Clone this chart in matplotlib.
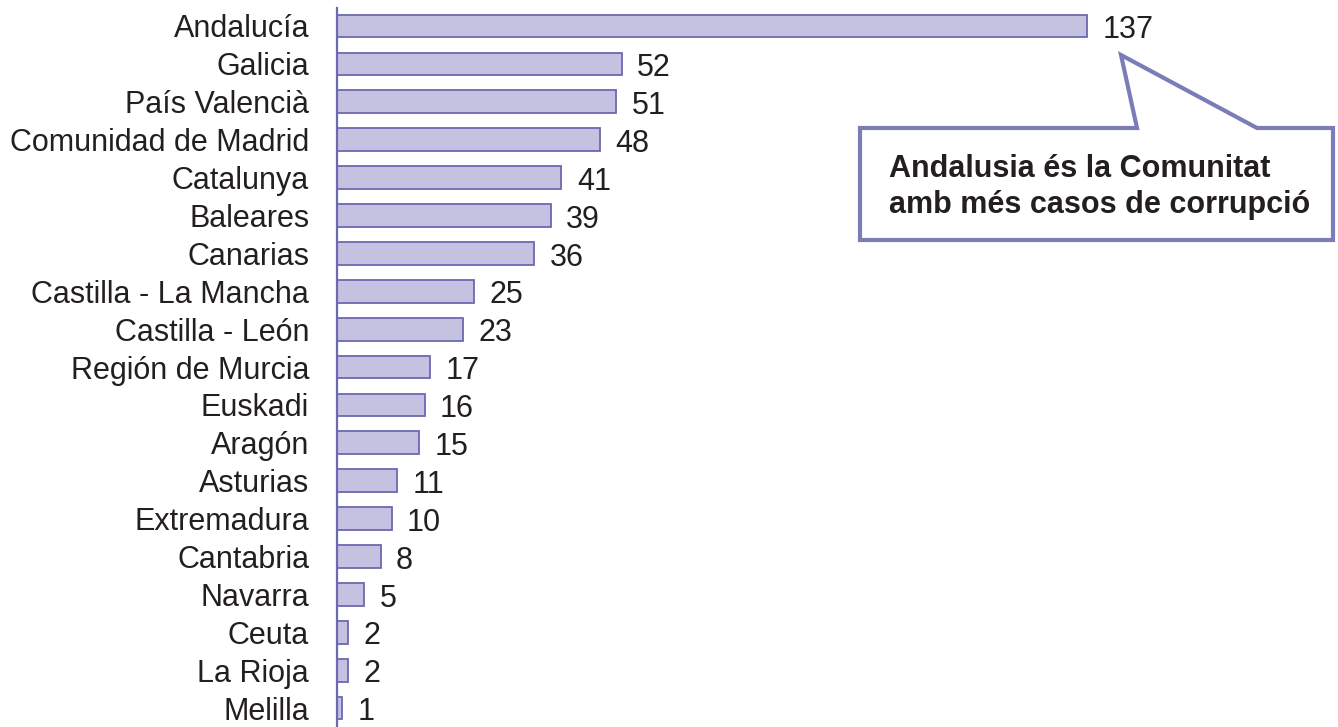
import matplotlib.pyplot as plt
from matplotlib.patches import Polygon

regions = ['Andalucía', 'Galicia', 'País Valencià', 'Comunidad de Madrid', 'Catalunya',
           'Baleares', 'Canarias', 'Castilla - La Mancha', 'Castilla - León',
           'Región de Murcia', 'Euskadi', 'Aragón', 'Asturias', 'Extremadura',
           'Cantabria', 'Navarra', 'Ceuta', 'La Rioja', 'Melilla']
cases = [137, 52, 51, 48, 41, 39, 36, 25, 23, 17, 16, 15, 11, 10, 8, 5, 2, 2, 1]
callout_text = 'Andalusia és la Comunitat\namb més casos de corrupció'

plt.rcParams['font.family'] = ['Liberation Sans', 'DejaVu Sans']
W, H = 1338, 727
fig = plt.figure(figsize=(W / 100, H / 100), dpi=100)
ax = fig.add_axes([337 / W, 0, 1 - 337 / W, 1 - 8 / H])

bar_c = '#c5c1e0'
edge_c = '#6b69b0'
ypos = list(range(len(regions)))
ax.barh(ypos, cases, height=0.6, color=bar_c, edgecolor=edge_c, linewidth=1.3)
for y, v in zip(ypos, cases):
    ax.annotate(str(v), (v, y), xytext=(11, -3), textcoords='offset points',
                va='center', ha='left', fontsize=22, color='#231f20')

ax.set_xlim(0, (W - 337) / 5.475)
ax.set_ylim(18.5, -0.475)
ax.set_yticks(ypos)
ax.set_yticklabels(regions, fontsize=22, color='#231f20')
ax.tick_params(axis='y', length=0, pad=20)
ax.set_xticks([])
for s in ['top', 'right', 'bottom']:
    ax.spines[s].set_visible(False)
ax.spines['left'].set_color(edge_c)
ax.spines['left'].set_linewidth(1.6)

# speech bubble
pts_px = [(860, 128), (1137, 128), (1121, 55), (1257, 128), (1333, 128),
          (1333, 240), (860, 240)]
pts = [(x / W, 1 - y / H) for x, y in pts_px]
bubble = Polygon(pts, closed=True, transform=fig.transFigure, facecolor='white',
                 edgecolor='#7b7db8', linewidth=3, joinstyle='miter')
fig.patches.append(bubble)
fig.text(889 / W, 1 - 187 / H, callout_text, fontsize=22, fontweight='bold',
         ha='left', va='center', color='#231f20', linespacing=1.25)

fig.savefig('out.png', dpi=100)
